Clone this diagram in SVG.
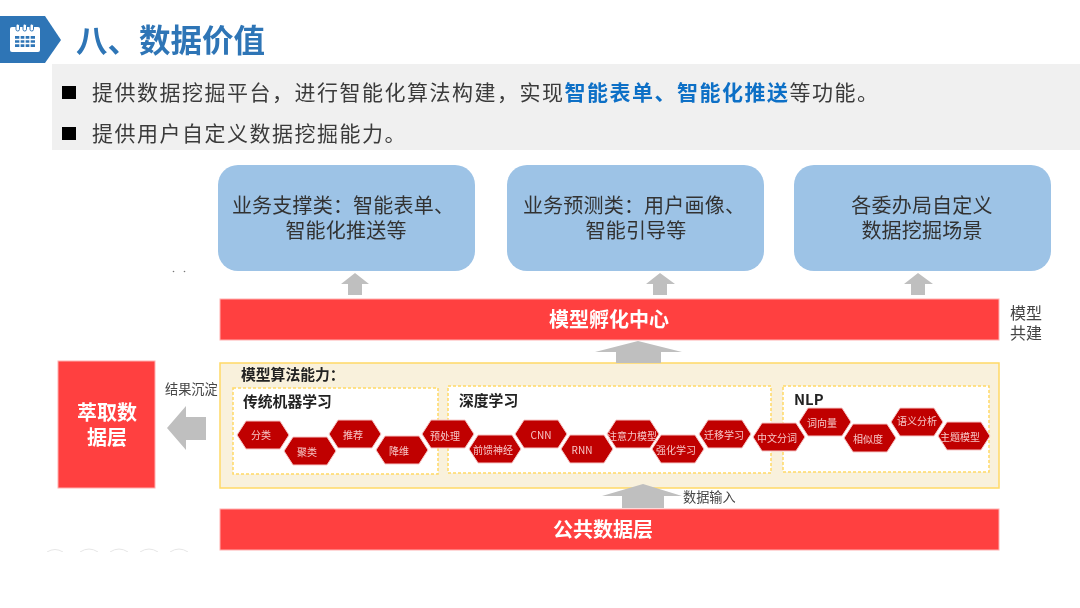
<svg xmlns="http://www.w3.org/2000/svg" width="1080" height="608" viewBox="0 0 1080 608">
<style>
text{font-family:"Noto Sans CJK SC","Noto Sans",sans-serif}
.serif{fill:#3a3a3a;font-size:21px;letter-spacing:1.5px}
.blue{fill:#9dc3e6}
.card{font-size:20px;letter-spacing:.2px;fill:#333;text-anchor:middle}
.bar{fill:#ff4040;stroke:#ffb0b0;stroke-width:1}
.wl{fill:#fff;font-weight:700;text-anchor:middle;font-size:20px}
.arrow{fill:#bfbfbf}
.hex{fill:#c00000;stroke:#f6c8c8;stroke-width:1}
.hl{fill:#f6c6c6;font-size:10px;text-anchor:middle}
.box{fill:#fff;stroke:#ffd966;stroke-width:1.5;stroke-dasharray:3 2}
.h{fill:#222;font-weight:700;font-size:14.8px}
.g{fill:#444;font-size:13.2px}
.speck{fill:none;stroke:#e6e6e6;stroke-width:1}
</style>
<defs>
<polygon id="hx" points="-26,0 -17,-14 17,-14 26,0 17,14 -17,14"/>
<filter id="soft" x="0" y="0" width="100%" height="100%"><feGaussianBlur stdDeviation="0.45"/></filter>
</defs>
<g filter="url(#soft)">
<g id="header">
<polygon points="0,16 45,16 61,40 45,63 0,63" fill="#2e75b6"/>
<rect x="10" y="27" width="30" height="25" rx="2" fill="#fff"/>
<rect x="15" y="36" width="20" height="11" fill="#2e75b6"/>
<path d="M15 39.500h20M15 43.500h20M20 36v11M25 36v11M30 36v11" stroke="#fff" stroke-width="1.300"/>
<g fill="#fff" stroke="#2e75b6"><rect x="16" y="24" width="3.500" height="7" rx="1.700"/><rect x="23" y="24" width="3.500" height="7" rx="1.700"/><rect x="30" y="24" width="3.500" height="7" rx="1.700"/></g>
<text x="76" y="52" font-size="31.500" font-weight="700" fill="#2e75b6">八、数据价值</text>
</g>
<rect id="band" x="52" y="64" width="1028" height="86" fill="#f0f0f0"/>
<g id="bullets">
<rect x="62" y="86" width="14" height="13" fill="#000"/>
<text class="serif" x="92" y="100">提供数据挖掘平台，进行智能化算法构建，实现<tspan fill="#0f6fc6" font-weight="700">智能表单、智能化推送</tspan>等功能。</text>
<rect x="62" y="127" width="14" height="13" fill="#000"/>
<text class="serif" x="92" y="141">提供用户自定义数据挖掘能力。</text>
</g>
<g id="card1"><rect class="blue" x="218" y="165" width="257" height="106" rx="20"/><text class="card" x="343" y="213">业务支撑类：智能表单、<tspan x="346" y="238">智能化推送等</tspan></text></g>
<g id="card2"><rect class="blue" x="507" y="165" width="257" height="106" rx="20"/><text class="card" x="634" y="213">业务预测类：用户画像、<tspan x="636" y="238">智能引导等</tspan></text></g>
<g id="card3"><rect class="blue" x="794" y="165" width="257" height="106" rx="20"/><text class="card" x="922" y="213">各委办局自定义<tspan x="922" y="238">数据挖掘场景</tspan></text></g>
<g id="incubator"><rect class="bar" x="220" y="299" width="779" height="41"/><text class="wl" x="609" y="327">模型孵化中心</text></g>
<text id="co" class="g" x="1010" y="319" style="font-size:16px">模型<tspan x="1010" y="339">共建</tspan></text>
<g id="extract"><rect class="bar" x="58" y="361" width="97" height="127"/><text class="wl" x="107" y="420">萃取数<tspan x="107" y="445">据层</tspan></text></g>
<text id="sediment" class="g" x="165" y="394">结果沉淀</text>
<g id="algo"><rect x="220" y="363" width="779" height="125" fill="#f9f1dc" stroke="#ffd966" stroke-width="1.500"/><text class="h" x="241" y="380">模型算法能力：</text></g>
<g id="trad"><rect class="box" x="233" y="388" width="205" height="86"/><text class="h" x="243" y="407">传统机器学习</text></g>
<g id="deep"><rect class="box" x="448" y="386" width="323" height="87"/><text class="h" x="459" y="406">深度学习</text></g>
<g id="nlp"><rect class="box" x="783" y="386" width="206" height="86"/><text class="h" x="794" y="405">NLP</text></g>
<g id="n1"><use href="#hx" class="hex" x="263" y="435"/><text class="hl" x="261" y="439">分类</text></g>
<g id="n2"><use href="#hx" class="hex" x="310" y="451"/><text class="hl" x="307" y="456">聚类</text></g>
<g id="n3"><use href="#hx" class="hex" x="355" y="434"/><text class="hl" x="353" y="439">推荐</text></g>
<g id="n4"><use href="#hx" class="hex" x="402" y="450"/><text class="hl" x="399" y="455">降维</text></g>
<g id="n5"><use href="#hx" class="hex" x="448" y="434"/><text class="hl" x="445" y="440">预处理</text></g>
<g id="n6"><use href="#hx" class="hex" x="495" y="449"/><text class="hl" x="493" y="454">前馈神经</text></g>
<g id="n7"><use href="#hx" class="hex" x="541" y="434"/><text class="hl" x="541" y="439">CNN</text></g>
<g id="n8"><use href="#hx" class="hex" x="587" y="449"/><text class="hl" x="582" y="454">RNN</text></g>
<g id="n9"><use href="#hx" class="hex" x="633" y="434"/><text class="hl" x="632" y="440">注意力模型</text></g>
<g id="n10"><use href="#hx" class="hex" x="678" y="449"/><text class="hl" x="676" y="454">强化学习</text></g>
<g id="n11"><use href="#hx" class="hex" x="725" y="434"/><text class="hl" x="724" y="439">迁移学习</text></g>
<g id="n12"><use href="#hx" class="hex" x="779" y="437"/><text class="hl" x="777" y="442">中文分词</text></g>
<g id="n13"><use href="#hx" class="hex" x="825" y="422"/><text class="hl" x="822" y="427">词向量</text></g>
<g id="n14"><use href="#hx" class="hex" x="870" y="438"/><text class="hl" x="868" y="443">相似度</text></g>
<g id="n15"><use href="#hx" class="hex" x="917" y="422"/><text class="hl" x="917" y="425">语义分析</text></g>
<g id="n16"><use href="#hx" class="hex" x="964" y="436"/><text class="hl" x="960" y="441">主题模型</text></g>
<text id="input" class="g" x="683" y="502">数据输入</text>
<g id="public"><rect class="bar" x="220" y="509" width="779" height="41"/><text class="wl" x="603" y="537">公共数据层</text></g>
<g id="connectors">
<polygon class="arrow" points="355,273 369,284 362,284 362,295 348,295 348,284 341,284"/>
<polygon class="arrow" points="660,273 675,284 667,284 667,295 653,295 653,284 646,284"/>
<polygon class="arrow" points="918,273 933,284 925,284 925,295 911,295 911,284 904,284"/>
<polygon class="arrow" points="638,341 682,352 661,352 661,363 616,363 616,352 595,352"/>
<polygon class="arrow" points="643,484 682,496 664,496 664,508 622,508 622,496 602,496"/>
<polygon class="arrow" points="167,428 186,406 186,417 206,417 206,440 186,440 186,450"/>
</g>
<g id="specks">
<circle cx="173.500" cy="271.500" r=".8" fill="#777"/><circle cx="184.500" cy="271.500" r=".8" fill="#777"/>
<path class="speck" d="M47 552q8-5 16 0M80 552q9-6 18 0M110 552q9-6 18 0M140 552q9-6 18 0M170 552q9-6 18 0"/>
</g>
</g>
</svg>
